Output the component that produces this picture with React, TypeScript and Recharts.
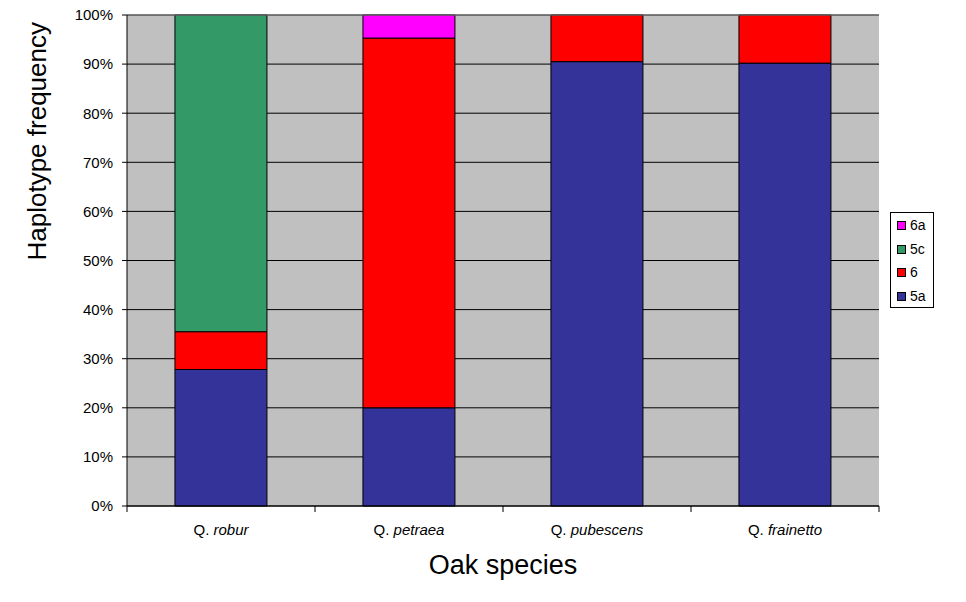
import React from "react";
import { BarChart, Bar, XAxis, YAxis, CartesianGrid, ReferenceLine } from "recharts";

const species = ["robur", "petraea", "pubescens", "frainetto"];
const hap5a = [27.8, 20.0, 90.5, 90.2];
const hap6 = [7.7, 75.3, 9.5, 9.8];
const hap5c = [64.5, 0, 0, 0];
const hap6a = [0, 4.7, 0, 0];
const yTicks = [0, 10, 20, 30, 40, 50, 60, 70, 80, 90, 100];

const series = [
  { key: "5a", color: "#333399" },
  { key: "6", color: "#FF0000" },
  { key: "5c", color: "#339966" },
  { key: "6a", color: "#FF00FF" },
];

const data = species.map((s, i) => ({
  name: s,
  "5a": hap5a[i],
  "6": hap6[i],
  "5c": hap5c[i],
  "6a": hap6a[i],
}));

const FONT = "'Liberation Sans', Arial, sans-serif";
const BAND = 188;

function SpeciesTick(props: any) {
  const { x, y, payload, index } = props;
  const last = index === species.length - 1;
  return (
    <g>
      <line x1={x - BAND / 2} y1={y} x2={x - BAND / 2} y2={y + 6} stroke="#000" />
      {last && <line x1={x + BAND / 2} y1={y} x2={x + BAND / 2} y2={y + 6} stroke="#000" />}
      <text x={x} y={y + 29} textAnchor="middle" fontSize={15} fontFamily={FONT} fill="#000">
        <tspan>Q.</tspan>
        <tspan fontStyle="italic"> {payload.value}</tspan>
      </text>
    </g>
  );
}

function LegendBox() {
  return (
    <div
      style={{
        position: "absolute",
        left: 890,
        top: 212,
        boxSizing: "border-box",
        width: 44,
        height: 96,
        border: "1px solid #000",
        background: "#fff",
        padding: "1px 0 0 6px",
        fontFamily: FONT,
        fontSize: 14,
        lineHeight: "23.5px",
      }}
    >
      {[...series].reverse().map((s) => (
        <div key={s.key} style={{ display: "flex", alignItems: "center" }}>
          <span
            style={{
              display: "inline-block",
              boxSizing: "border-box",
              width: 9,
              height: 9,
              background: s.color,
              border: "1px solid #000",
              marginRight: 4,
            }}
          />
          {s.key}
        </div>
      ))}
    </div>
  );
}

export default function App() {
  return (
    <div style={{ position: "absolute", left: 0, top: 0, width: 966, height: 602, background: "#fff" }}>
      <BarChart
        width={966}
        height={602}
        data={data}
        margin={{ top: 15, right: 87, bottom: 0, left: 0 }}
        barCategoryGap="25.5%"
      >
        <CartesianGrid vertical={false} stroke="#000" fill="#C0C0C0" fillOpacity={1} />
        <XAxis
          dataKey="name"
          axisLine={{ stroke: "#000" }}
          tickLine={false}
          tickSize={0}
          tickMargin={0}
          tick={<SpeciesTick />}
          interval={0}
          label={{ value: "Oak species", position: "insideBottom", offset: 0, dy: -28, fontSize: 27, fontFamily: FONT, fill: "#000" }}
          height={96}
        />
        <YAxis
          width={127}
          domain={[0, 100]}
          ticks={yTicks}
          interval={0}
          tickFormatter={(v) => `${v}%`}
          axisLine={{ stroke: "#000" }}
          tickLine={{ stroke: "#000" }}
          tickSize={5}
          tickMargin={9}
          tick={{ fontSize: 15, fontFamily: FONT, fill: "#000" }}
          label={{ value: "Haplotype frequency", angle: -90, position: "insideLeft", dx: 32, fontSize: 26, fontFamily: FONT, fill: "#000" }}
        />
        <ReferenceLine y={100} stroke="#808080" />
        {series.map((s) => (
          <Bar key={s.key} dataKey={s.key} stackId="a" fill={s.color} stroke="#000" strokeWidth={1} isAnimationActive={false} />
        ))}
      </BarChart>
      <LegendBox />
    </div>
  );
}
